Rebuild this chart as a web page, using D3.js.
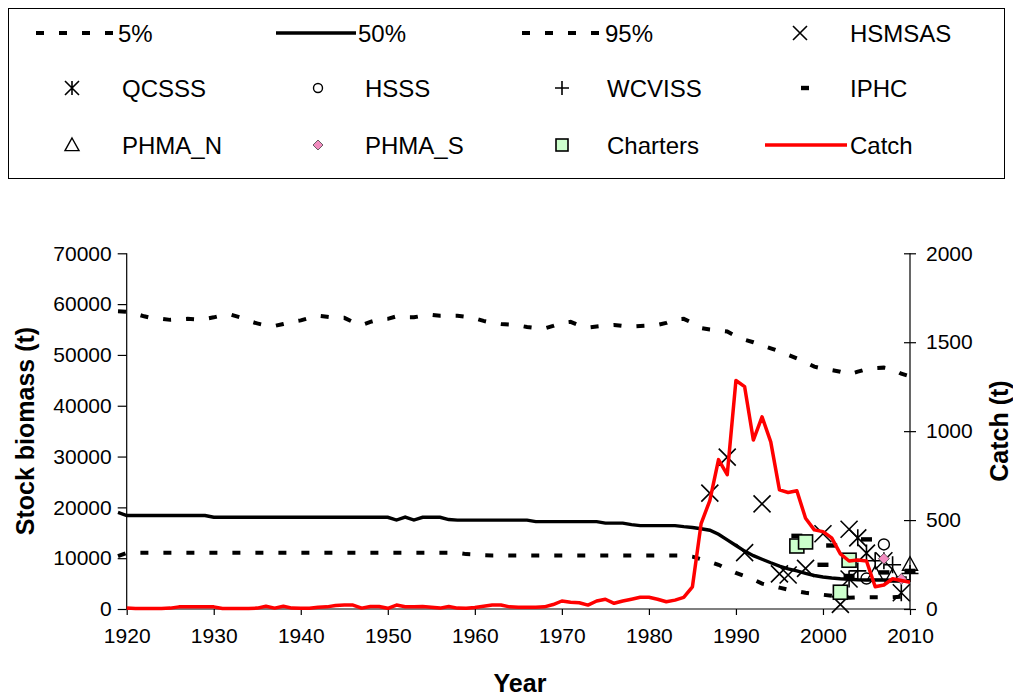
<!DOCTYPE html>
<html><head><meta charset="utf-8">
<script src="https://cdn.jsdelivr.net/npm/d3@7"></script>
<style>body{margin:0;background:#fff}svg{display:block}text{font-family:"Liberation Sans",Arial,sans-serif}</style>
</head><body><svg id="c" width="1013" height="698"></svg>
<script>
// ---------- data ----------
const bioYears = [1919,1920,1921,1922,1923,1924,1925,1926,1927,1928,1929,1930,1931,1932,1933,1934,1935,1936,1937,1938,1939,1940,1941,1942,1943,1944,1945,1946,1947,1948,1949,1950,1951,1952,1953,1954,1955,1956,1957,1958,1959,1960,1961,1962,1963,1964,1965,1966,1967,1968,1969,1970,1971,1972,1973,1974,1975,1976,1977,1978,1979,1980,1981,1982,1983,1984,1985,1986,1987,1988,1989,1990,1991,1992,1993,1994,1995,1996,1997,1998,1999,2000,2001,2002,2003,2004,2005,2006,2007,2008,2009,2010];
const p95 = [58600,58500,58100,57600,57200,57100,56900,57000,57100,57000,57100,57400,57800,57900,57400,56700,56200,55800,55700,56100,56500,56800,57300,57700,57500,57300,57300,56500,55900,56500,57000,57100,57600,57400,57400,57700,57900,57700,57700,57700,57500,57200,56700,56300,56100,56000,55800,55500,55300,55200,55700,56300,56500,55800,55400,55600,55800,55900,55700,55600,55700,55800,55900,56300,57000,57100,56300,55300,55000,54800,54600,53700,53000,52500,51900,51300,50700,50000,49300,48500,47700,47300,47000,46700,46200,46700,47200,47400,47500,47200,46300,45800];
const p50 = [19000,18400,18400,18400,18400,18400,18400,18400,18400,18400,18400,18050,18050,18050,18050,18050,18050,18050,18050,18050,18050,18050,18050,18050,18050,18050,18050,18050,18050,18050,18050,18050,17500,18100,17500,18050,18050,18050,17600,17500,17500,17500,17500,17500,17500,17500,17500,17500,17200,17200,17200,17200,17200,17200,17200,17200,16900,16900,16900,16600,16400,16400,16400,16400,16400,16200,16050,15800,15500,14700,13600,12500,11400,10500,9800,9100,8450,7900,7500,7000,6600,6300,6100,5950,5850,5750,5700,5700,5700,5650,5600,5550];
const p5 = [10400,11050,11050,11050,11050,11050,11050,11050,11050,11050,11050,11050,11050,11050,11050,11050,11050,11050,11050,11050,11050,11050,11050,11050,11050,11050,11050,11050,11050,11050,11050,11050,11050,11050,11050,11050,11050,11050,11050,11050,10800,10700,10600,10550,10550,10550,10550,10550,10550,10550,10550,10550,10550,10550,10550,10550,10550,10550,10550,10550,10550,10550,10550,10550,10550,10550,10300,9800,9300,8700,7900,7100,6500,5800,5000,4600,4200,3800,3500,3200,3000,2800,2600,2400,2200,2300,2300,2300,2300,2300,2400,2400];
const catchYears = bioYears.slice(1);
const catchT = [5,3,3,3,3,5,12,12,13,13,12,3,3,3,3,5,15,5,15,5,4,4,10,12,20,22,22,5,14,14,4,22,13,13,14,10,5,14,5,4,8,15,22,22,12,10,10,10,12,25,45,38,35,22,45,55,32,45,55,66,66,55,41,50,65,125,480,610,840,755,1285,1250,950,1080,940,670,655,665,510,445,435,400,310,270,275,270,125,135,170,160,150];

const hsmsasYears = [1987,1989,1991,1993,1995,1996,1998,2000,2002,2003];
const hsmsasVals  = [22800,29900,11100,20700,6900,6700,8000,14800,900,15700];
const qcsssYears = [2003,2004,2005,2007,2009];
const qcsssVals  = [5900,14000,11000,9500,3200];
const hsssYears = [2005,2007];
const hsssVals  = [6000,12700];
const wcvissYears = [2004,2006,2008,2010];
const wcvissVals  = [7500,9500,8700,7000];
const iphcYears = [1997,1998,2000,2001,2003,2005,2007,2009,2010];
const iphcVals  = [14400,14100,8700,12500,6500,13700,7200,6000,7500];
const phmaNYears = [2006,2008,2010];
const phmaNVals  = [7000,6500,8800];
const phmaSYears = [2007,2009];
const phmaSVals  = [9900,5900];
const chartersYears = [1997,1998,2002,2003];
const chartersVals  = [12400,13200,3300,9600];

const xTicks = [1920,1930,1940,1950,1960,1970,1980,1990,2000,2010];
const yTicks = [0,10000,20000,30000,40000,50000,60000,70000];
const y2Ticks = [0,500,1000,1500,2000];

// ---------- chart ----------
const svg = d3.select("#c");
const X0 = 126.7, X1 = 910, Y0 = 609, Y1 = 253.3;
const x = d3.scaleLinear().domain([1920,2010]).range([X0,X1]);
const y = d3.scaleLinear().domain([0,70000]).range([Y0,Y1]);
const y2 = d3.scaleLinear().domain([0,2000]).range([Y0,Y1]);

// legend box
svg.append("rect").attr("x",8.5).attr("y",8.5).attr("width",996).attr("height",170)
  .attr("fill","#fff").attr("stroke","#000").attr("stroke-width",1);

// axes
const axL = svg.append("g").attr("transform",`translate(${X0},0)`)
  .call(d3.axisLeft(y).tickValues(yTicks).tickSize(9).tickPadding(6).tickFormat(d3.format("d")));
const axR = svg.append("g").attr("transform",`translate(${X1},0)`)
  .call(d3.axisRight(y2).tickValues(y2Ticks).tickSize(5).tickPadding(11).tickFormat(d3.format("d")));
axR.selectAll(".tick line").attr("x1",-6).attr("x2",6);
const axB = svg.append("g").attr("transform",`translate(0,${Y0})`)
  .call(d3.axisBottom(x).tickValues(xTicks).tickSize(6).tickPadding(13).tickFormat(d3.format("d")));
[axL,axR,axB].forEach(a=>{
  a.select(".domain").attr("stroke","#000").attr("stroke-width",1.2);
  a.selectAll(".tick line").attr("stroke","#000").attr("stroke-width",1.2);
  a.selectAll("text").attr("font-size",21).attr("fill","#000").style("font-family","Liberation Sans, Arial");
});
axL.select(".domain").attr("d",`M0,${Y0}V${Y1}`);
axR.select(".domain").attr("d",`M0,${Y0}V${Y1}`);
axB.select(".domain").attr("d",`M${X0},0H${X1}`);

// titles
svg.append("text").attr("transform",`translate(34,431) rotate(-90)`).attr("text-anchor","middle")
  .attr("font-size",25).attr("font-weight","bold").text("Stock biomass (t)");
svg.append("text").attr("transform",`translate(1008,431) rotate(-90)`).attr("text-anchor","middle")
  .attr("font-size",25).attr("font-weight","bold").text("Catch (t)");
svg.append("text").attr("x",520).attr("y",692).attr("text-anchor","middle")
  .attr("font-size",25).attr("font-weight","bold").text("Year");

// lines
const bioLine = vals => d3.line().x((d,i)=>x(bioYears[i])).y(d=>y(d))(vals);
svg.append("path").attr("d",bioLine(p5)).attr("fill","none").attr("stroke","#000").attr("stroke-width",4).attr("stroke-dasharray","8,15");
svg.append("path").attr("d",bioLine(p50)).attr("fill","none").attr("stroke","#000").attr("stroke-width",3.4);
svg.append("path").attr("d",bioLine(p95)).attr("fill","none").attr("stroke","#000").attr("stroke-width",4).attr("stroke-dasharray","8,15");

// marker painters
function mX(g,s){g.append("path").attr("d",`M${-s},${-s}L${s},${s}M${-s},${s}L${s},${-s}`).attr("stroke","#000").attr("stroke-width",1.6).attr("fill","none");}
function mAst(g,s){g.append("path").attr("d",`M${-s},${-s}L${s},${s}M${-s},${s}L${s},${-s}M0,${-s}V${s}`).attr("stroke","#000").attr("stroke-width",1.6).attr("fill","none");}
function mCirc(g,s){g.append("circle").attr("r",s).attr("fill","#fff").attr("fill-opacity",0).attr("stroke","#000").attr("stroke-width",1.4);}
function mPlus(g,s){g.append("path").attr("d",`M${-s},0H${s}M0,${-s}V${s}`).attr("stroke","#000").attr("stroke-width",1.6).attr("fill","none");}
function mDash(g,s){g.append("rect").attr("x",-s).attr("y",-2.2).attr("width",2*s).attr("height",4.4).attr("fill","#000");}
function mTri(g,s){g.append("path").attr("d",`M0,${-s}L${s},${s*0.8}L${-s},${s*0.8}Z`).attr("stroke","#000").attr("stroke-width",1.4).attr("fill","none");}
function mDia(g,s){g.append("path").attr("d",`M0,${-s}L${s},0L0,${s}L${-s},0Z`).attr("stroke","#444").attr("stroke-width",0.8).attr("fill","#f28cbf");}
function mSq(g,s){g.append("rect").attr("x",-s).attr("y",-s).attr("width",2*s).attr("height",2*s).attr("stroke","#000").attr("stroke-width",1.6).attr("fill","#ccffcc");}

function scatter(yrs,vals,painter,size){
  const g = svg.append("g");
  g.selectAll("g").data(vals).join("g")
    .attr("transform",(d,i)=>`translate(${x(yrs[i])},${y(d)})`)
    .each(function(){painter(d3.select(this),size);});
}
scatter(hsmsasYears,hsmsasVals,mX,8.5);
scatter(qcsssYears,qcsssVals,mAst,8.5);
scatter(hsssYears,hsssVals,mCirc,5.5);
scatter(wcvissYears,wcvissVals,mPlus,8.5);
scatter(iphcYears,iphcVals,mDash,5.5);
scatter(phmaNYears,phmaNVals,mTri,7.5);
scatter(phmaSYears,phmaSVals,mDia,5.5);
scatter(chartersYears,chartersVals,mSq,7);

// catch
svg.append("path").attr("d",d3.line().x((d,i)=>x(catchYears[i])).y(d=>y2(d))(catchT))
  .attr("fill","none").attr("stroke","#ff0000").attr("stroke-width",3.5).attr("stroke-linejoin","round");

// legend
const rows=[33,88,145];
function legLine(x0,x1,yy,col,dash,w){svg.append("line").attr("x1",x0).attr("x2",x1).attr("y1",yy).attr("y2",yy).attr("stroke",col).attr("stroke-width",w).attr("stroke-dasharray",dash);}
function legText(xx,yy,t){svg.append("text").attr("x",xx).attr("y",yy+8.5).attr("font-size",24).text(t);}
function legSym(xx,yy,p,s){const g=svg.append("g").attr("transform",`translate(${xx},${yy})`);p(g,s);}
legLine(36,116,rows[0],"#000","8,15",4); legText(118,rows[0],"5%");
legLine(276,356,rows[0],"#000",null,3.4); legText(358,rows[0],"50%");
legLine(522,602,rows[0],"#000","8,15",4); legText(605,rows[0],"95%");
legSym(800,rows[0],mX,7); legText(850,rows[0],"HSMSAS");
legSym(72,rows[1],mAst,7); legText(122,rows[1],"QCSSS");
legSym(318,rows[1],mCirc,4.5); legText(365,rows[1],"HSSS");
legSym(562,rows[1],mPlus,7); legText(607,rows[1],"WCVISS");
legSym(805,rows[1],mDash,4); legText(850,rows[1],"IPHC");
legSym(72,rows[2],mTri,7); legText(122,rows[2],"PHMA_N");
legSym(318,rows[2],mDia,5); legText(365,rows[2],"PHMA_S");
legSym(562,rows[2],mSq,6); legText(607,rows[2],"Charters");
legLine(765,847,rows[2],"#ff0000",null,3.5); legText(850,rows[2],"Catch");
</script></body></html>
